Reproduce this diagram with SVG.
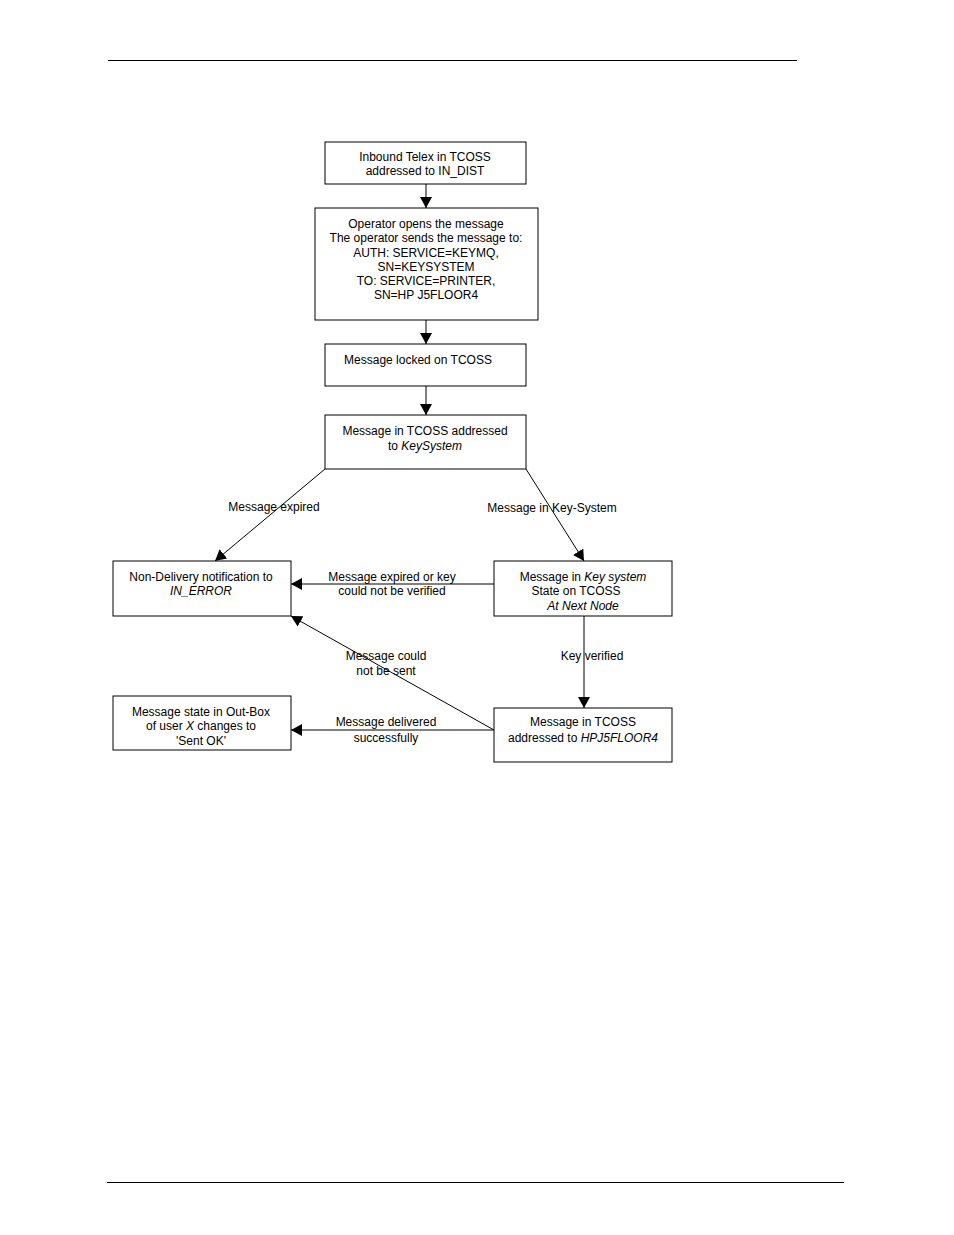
<svg xmlns="http://www.w3.org/2000/svg" width="954" height="1235" viewBox="0 0 954 1235">
<style>
.box{fill:#fff;stroke:#000;stroke-width:1}
text{font-family:"Liberation Sans",Arial,sans-serif;font-size:12px;fill:#000;text-anchor:middle}
.i{font-style:italic}
.c{stroke:#000;stroke-width:1;fill:none;marker-end:url(#ah)}
</style>
<defs>
<marker id="ah" markerWidth="12" markerHeight="12" refX="11" refY="6" orient="auto" markerUnits="userSpaceOnUse">
<path d="M0,0 L11,6 L0,12 Z" fill="#000"/>
</marker>
</defs>
<rect width="954" height="1235" fill="#fff"/>
<line x1="108" y1="60.5" x2="797" y2="60.5" stroke="#000" stroke-width="1"/>
<line x1="107" y1="1182.5" x2="844" y2="1182.5" stroke="#000" stroke-width="1"/>
<g id="connectors">
<line class="c" x1="426" y1="184" x2="426" y2="208"/>
<line class="c" x1="426" y1="320" x2="426" y2="344"/>
<line class="c" x1="426" y1="386" x2="426" y2="415"/>
<line class="c" x1="325" y1="469" x2="215" y2="561"/>
<line class="c" x1="526" y1="469" x2="584" y2="561"/>
<line class="c" x1="494" y1="584" x2="291" y2="584"/>
<line class="c" x1="584" y1="616" x2="584" y2="708"/>
<line class="c" x1="494" y1="730" x2="291" y2="616"/>
<line class="c" x1="494" y1="730" x2="291" y2="730"/>
<text x="274" y="511">Message expired</text>
<text x="552" y="512">Message in Key-System</text>
<text x="392" y="581">Message expired or key</text>
<text x="392" y="595">could not be verified</text>
<text x="386" y="660">Message could</text>
<text x="386" y="675">not be sent</text>
<text x="592" y="660">Key verified</text>
<text x="386" y="726">Message delivered</text>
<text x="386" y="742">successfully</text>
</g>
<g id="n1"><rect class="box" x="325" y="142" width="201" height="42"/>
<text x="425" y="161">Inbound Telex in TCOSS</text><text x="425" y="175">addressed to IN_DIST</text></g>
<g id="n2"><rect class="box" x="315" y="208" width="223" height="112"/>
<text x="426" y="228">Operator opens the message</text>
<text x="426" y="242">The operator sends the message to:</text>
<text x="426" y="257">AUTH: SERVICE=KEYMQ,</text>
<text x="426" y="271">SN=KEYSYSTEM</text>
<text x="426" y="285">TO: SERVICE=PRINTER,</text>
<text x="426" y="299">SN=HP J5FLOOR4</text></g>
<g id="n3"><rect class="box" x="325" y="344" width="201" height="42"/>
<text x="418" y="364">Message locked on TCOSS</text></g>
<g id="n4"><rect class="box" x="325" y="415" width="201" height="54"/>
<text x="425" y="435">Message in TCOSS addressed</text>
<text x="425" y="450">to <tspan class="i">KeySystem</tspan></text></g>
<g id="n5"><rect class="box" x="113" y="561" width="178" height="55"/>
<text x="201" y="581">Non-Delivery notification to</text>
<text x="201" y="595" class="i">IN_ERROR</text></g>
<g id="n6"><rect class="box" x="494" y="561" width="178" height="55"/>
<text x="583" y="581">Message in <tspan class="i">Key system</tspan></text>
<text x="576" y="595">State on TCOSS</text>
<text x="583" y="610" class="i">At Next Node</text></g>
<g id="n7"><rect class="box" x="113" y="696" width="178" height="54"/>
<text x="201" y="716">Message state in Out-Box</text>
<text x="201" y="730">of user <tspan class="i">X</tspan> changes to</text>
<text x="201" y="745">'Sent OK'</text></g>
<g id="n8"><rect class="box" x="494" y="708" width="178" height="54"/>
<text x="583" y="726">Message in TCOSS</text>
<text x="583" y="742">addressed to <tspan class="i">HPJ5FLOOR4</tspan></text></g>
</svg>
